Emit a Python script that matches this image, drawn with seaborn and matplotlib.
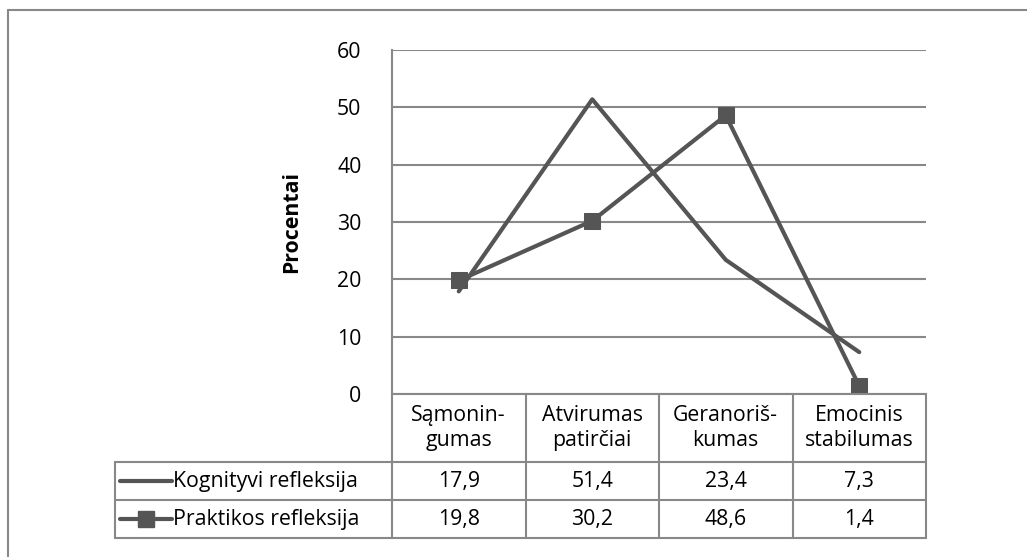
import pandas as pd
import seaborn as sns
import matplotlib.pyplot as plt
from matplotlib.lines import Line2D

# chart data
categories = ["Sąmonin-\ngumas", "Atvirumas\npatirčiai", "Geranoriš-\nkumas", "Emocinis\nstabilumas"]
kognityvi = [17.9, 51.4, 23.4, 7.3]
praktikos = [19.8, 30.2, 48.6, 1.4]
series_names = ["Kognityvi refleksija", "Praktikos refleksija"]
y_ticks = [0, 10, 20, 30, 40, 50, 60]

W, H = 1027, 557
LINE = "#555555"
GRID = "#888888"
TXT = "#000000"
FS = 15.3

sns.set_theme(style="white")
plt.rcParams['font.family'] = ['Open Sans', 'DejaVu Sans']

fig = plt.figure(figsize=(W / 100, H / 100), dpi=100)

# pixel -> figure fraction helpers
def fx(px):
    return px / W

def fy(py):
    return 1 - py / H

ax_l, ax_r, ax_t, ax_b = 392, 926, 50, 394
ax = fig.add_axes([fx(ax_l), fy(ax_b), fx(ax_r - ax_l), (ax_b - ax_t) / H])

df = pd.DataFrame({"x": list(range(len(categories))) * 2,
                   "value": kognityvi + praktikos,
                   "series": [series_names[0]] * 4 + [series_names[1]] * 4})

sns.lineplot(data=df[df.series == series_names[0]], x="x", y="value", ax=ax,
             color=LINE, linewidth=3, legend=False)
sns.lineplot(data=df[df.series == series_names[1]], x="x", y="value", ax=ax,
             color=LINE, linewidth=3, marker="s", markersize=12,
             markeredgecolor=LINE, legend=False)

ax.set_xlim(-0.5, len(categories) - 0.5)
ax.set_ylim(0, 60)
ax.set_yticks(y_ticks)
ax.set_yticklabels([str(t) for t in y_ticks], fontsize=FS, color=TXT)
ax.set_xticks([])
ax.set_xlabel("")
ax.set_ylabel("Procentai", fontsize=FS, fontweight="bold", color=TXT)
ax.yaxis.set_label_coords((302 - ax_l) / (ax_r - ax_l), 0.5)
ax.tick_params(axis="y", length=0, pad=22)
for y in y_ticks:
    ax.axhline(y, color=GRID, linewidth=1.5, zorder=0)
for s in ["top", "right", "bottom"]:
    ax.spines[s].set_visible(False)
ax.spines["left"].set_color(GRID)
ax.spines["left"].set_linewidth(1.5)

# data table below the plot
col_w = (ax_r - ax_l) / len(categories)
tbl_l = 115
rows_y = [394, 462, 500, 538]

def hline(x0, x1, y):
    fig.add_artist(Line2D([fx(x0), fx(x1)], [fy(y), fy(y)], color=GRID, linewidth=1.5))

def vline(x, y0, y1):
    fig.add_artist(Line2D([fx(x), fx(x)], [fy(y0), fy(y1)], color=GRID, linewidth=1.5))

hline(ax_l, ax_r, rows_y[0])
hline(tbl_l, ax_r, rows_y[1])
hline(tbl_l, ax_r, rows_y[2])
hline(tbl_l, ax_r, rows_y[3])
vline(tbl_l, rows_y[1], rows_y[3])
for i in range(len(categories) + 1):
    vline(ax_l + i * col_w, rows_y[0], rows_y[3])

for i, cat in enumerate(categories):
    cx = ax_l + (i + 0.5) * col_w
    fig.text(fx(cx), fy((rows_y[0] + rows_y[1]) / 2), cat, ha="center", va="center",
             fontsize=FS, color=TXT, linespacing=1.3)
    for r, vals in enumerate([kognityvi, praktikos]):
        fig.text(fx(cx), fy((rows_y[r + 1] + rows_y[r + 2]) / 2),
                 f"{vals[i]:.1f}".replace(".", ","), ha="center", va="center",
                 fontsize=FS, color=TXT)

for r, name in enumerate(series_names):
    cy = (rows_y[r + 1] + rows_y[r + 2]) / 2
    fig.add_artist(Line2D([fx(120), fx(172)], [fy(cy), fy(cy)], color=LINE, linewidth=3))
    if r == 1:
        fig.add_artist(Line2D([fx(146)], [fy(cy)], color=LINE, marker="s", markersize=12,
                              markeredgecolor=LINE))
    fig.text(fx(173), fy(cy), name, ha="left", va="center", fontsize=FS, color=TXT)

# chart frame (top and left edges visible)
fig.add_artist(Line2D([fx(8), fx(W)], [fy(10), fy(10)], color=GRID, linewidth=1.5))
fig.add_artist(Line2D([fx(8), fx(8)], [fy(10), fy(H)], color=GRID, linewidth=1.5))

fig.savefig("out.png", dpi=100)
